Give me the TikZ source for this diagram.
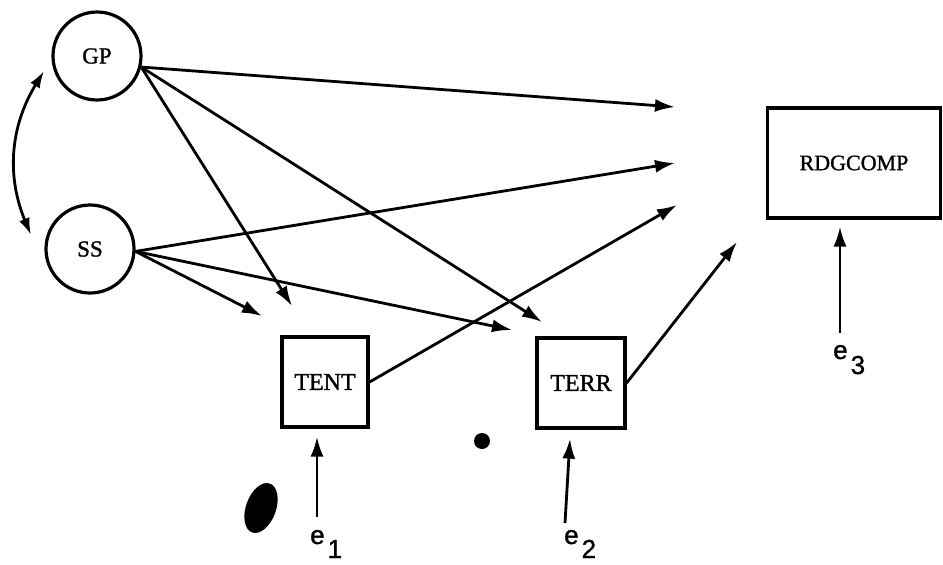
\documentclass[tikz,border=0pt]{standalone}
\usepackage{fontspec}
\setmainfont[FakeBold=1.2]{Liberation Serif}
\newfontfamily\errfont[FakeBold=1.2]{Liberation Sans}
\usetikzlibrary{arrows.meta}

\tikzset{
  latent/.style={circle, draw, line width=3.2pt, minimum size=88pt, inner sep=0pt,
                 font=\fontsize{23}{25}\selectfont},
  observed/.style={rectangle, draw, line width=3.2pt, inner sep=0pt,
                   font=\fontsize{24}{26}\selectfont},
  path/.style={line width=2.8pt, -{Latex[length=20pt,width=13pt]}},
  corr/.style={line width=2.8pt, {Latex[length=17pt,width=11pt]}-{Latex[length=17pt,width=11pt]}},
  errlabel/.style={anchor=base west, inner sep=0pt, font=\errfont\fontsize{26}{28}\selectfont}
}

\begin{document}
\begin{tikzpicture}[x=1pt,y=-1pt]
\useasboundingbox (0,0) rectangle (943,565);

% exogenous variables
\node[latent] (GP) at (97,56) {GP};
\node[latent] (SS) at (90,249) {SS};

% mediators and outcome
\node[observed, minimum width=86pt, minimum height=90pt] (TENT) at (325,382) {TENT};
\node[observed, minimum width=88pt, minimum height=90pt] (TERR) at (581,383) {TERR};
\node[observed, minimum width=173pt, minimum height=110pt,
      font=\fontsize{22}{24}\selectfont] (RDG) at (854,163) {RDGCOMP};

% residual terms
\node[errlabel] (e1) at (310,544) {e\kern3pt\raisebox{-14pt}{1}};
\node[errlabel] (e2) at (564,544) {e\kern3pt\raisebox{-14pt}{2}};
\node[errlabel] (e3) at (833,359) {e\kern3pt\raisebox{-15pt}{3}};

% free arrow ends
\coordinate (t1) at (675,107);
\coordinate (t2) at (675,163);
\coordinate (t3) at (677,205);
\coordinate (t4) at (737,242);
\coordinate (gpTent) at (292,306);
\coordinate (gpTerr) at (542,322);
\coordinate (ssTent) at (262,316);
\coordinate (ssTerr) at (512,330);
\coordinate (e1top) at (317,517);
\coordinate (e2top) at (565,523);
\coordinate (e3top) at (840,333);
\coordinate (cA) at (44,71);
\coordinate (cB) at (31,235);

% correlation between GP and SS
\draw[corr] (cA) .. controls (8,130) and (8,180) .. (cB);

% paths from GP
\draw[path] (GP.-14) -- (t1);
\draw[path] (GP.-14) -- (gpTent);
\draw[path] (GP.-14) -- (gpTerr);

% paths from SS
\draw[path] (SS.-3) -- (t2);
\draw[path] (SS.-3) -- (ssTent);
\draw[path] (SS.-3) -- (ssTerr);

% paths from the mediators
\draw[path] (TENT.east) -- (t3);
\draw[path] (TERR.east) -- (t4);

% residual arrows
\draw[path] (e1top) -- ([xshift=-8pt,yshift=-8pt]TENT.south);
\draw[path] (e2top) -- ([xshift=-11pt,yshift=-9pt]TERR.south);
\draw[path] (e3top) -- ([xshift=-14pt,yshift=-7pt]RDG.south);

% ink blots
\fill (261,508) ellipse [x radius=15, y radius=26, rotate=-20];
\fill (482,441) circle [radius=8];
\end{tikzpicture}
\end{document}
